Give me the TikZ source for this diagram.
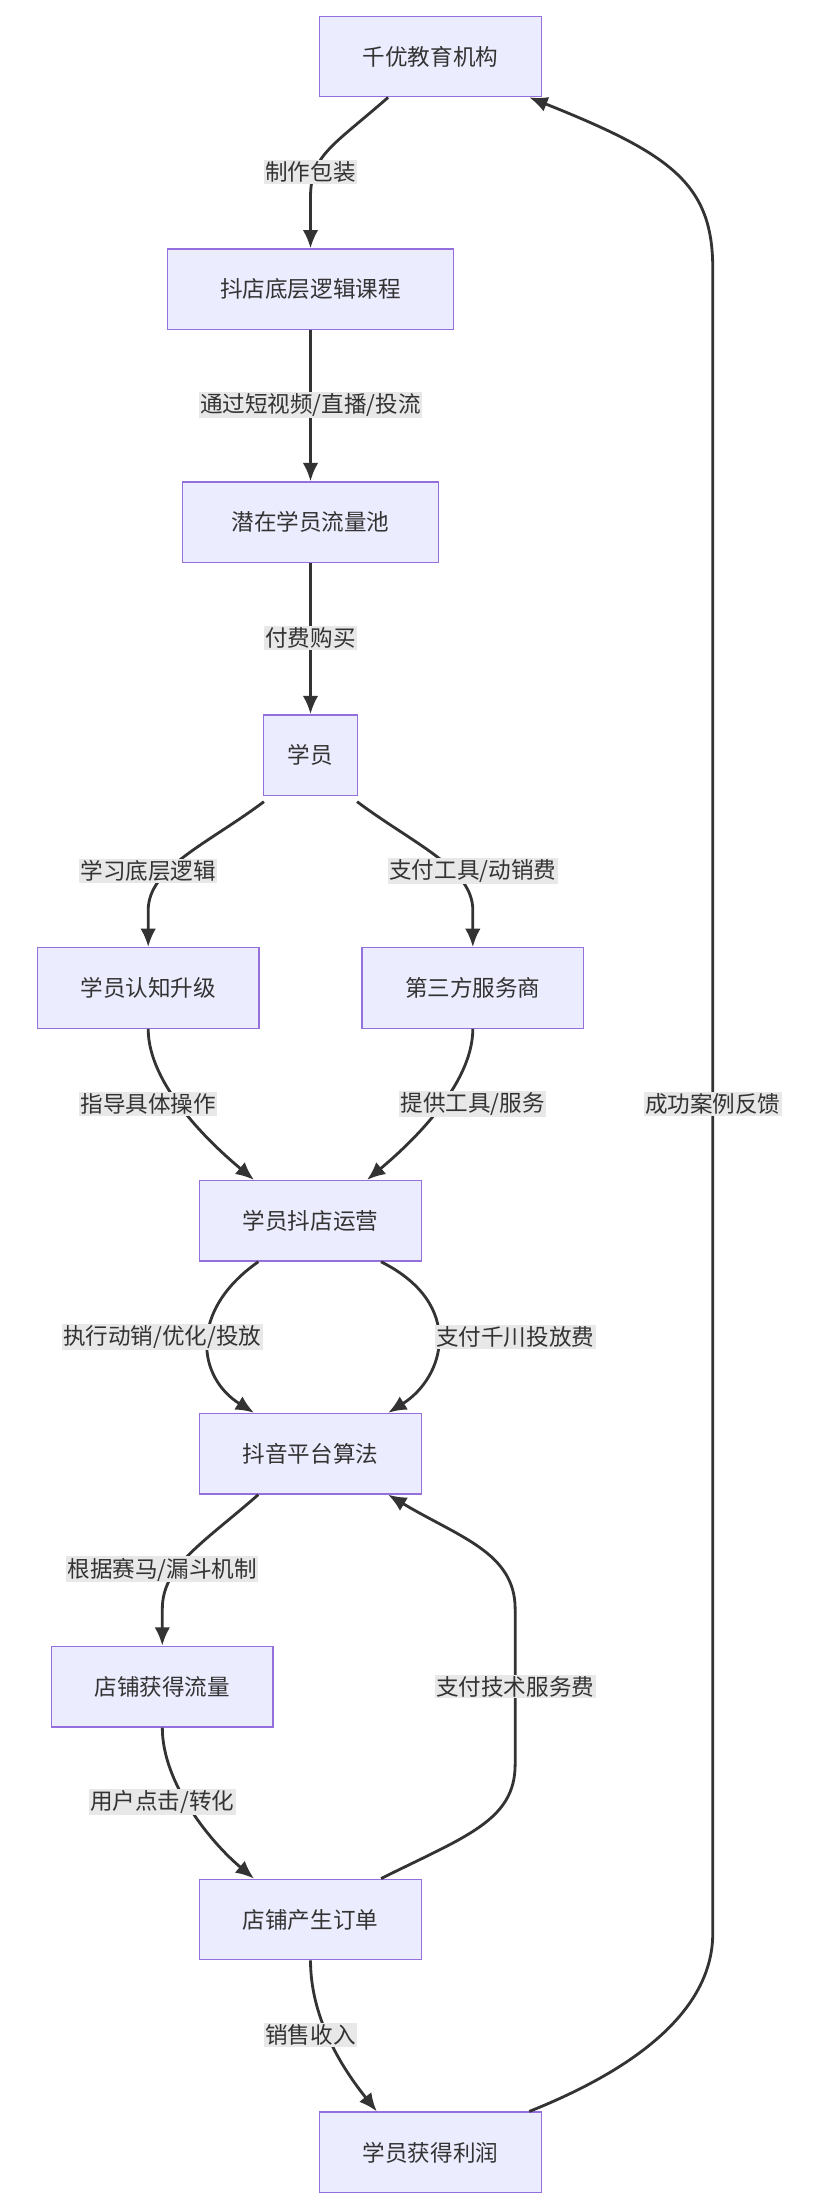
\documentclass[tikz,border=0pt]{standalone}
\usepackage{fontspec}
\setmainfont{Noto Sans CJK SC}
\usetikzlibrary{arrows.meta}
\begin{document}
\begin{tikzpicture}[x=1pt,y=-1pt,
  box/.style={draw=#1,fill=boxfill,line width=1pt,minimum height=57pt,inner xsep=12pt,font=\fontsize{16}{18}\selectfont,text=txt},
  box/.default=boxline,
  lbl/.style={fill=lblbg,inner sep=1pt,font=\fontsize{16}{18}\selectfont,text=txt},
  ed/.style={draw=edge,line width=2pt,-{Latex[length=13pt,width=11pt]}}]
\definecolor{boxfill}{HTML}{ECECFF}
\definecolor{boxline}{HTML}{9370DB}
\definecolor{edge}{HTML}{333333}
\definecolor{txt}{HTML}{333333}
\definecolor{lblbg}{HTML}{E8E8E8}
\useasboundingbox (0,0) rectangle (584,1563);
\node[box,minimum width=157pt] (a) at (305,40) {千优教育机构};
\node[box,minimum width=203pt] (b) at (220,205) {抖店底层逻辑课程};
\node[box,minimum width=181pt] (c) at (220,370) {潜在学员流量池};
\node[box,minimum width=67pt] (d) at (220,535) {学员};
\node[box,minimum width=157pt] (e) at (105,700) {学员认知升级};
\node[box,minimum width=157pt] (f) at (335,700) {第三方服务商};
\node[box,minimum width=157pt] (g) at (220,865) {学员抖店运营};
\node[box,minimum width=157pt] (h) at (220,1030) {抖音平台算法};
\node[box,minimum width=157pt] (i) at (115,1195) {店铺获得流量};
\node[box,minimum width=157pt] (j) at (220,1360) {店铺产生订单};
\node[box,minimum width=157pt] (k) at (305,1525) {学员获得利润};

\draw[ed] ([xshift=-30pt]a.south) .. controls +(-40,35) and +(0,-30) .. (220,140) -- (b.north);
\draw[ed] (b) -- (c);
\draw[ed] (c) -- (d);
\draw[ed] ([xshift=-33pt,yshift=-4pt]d.south) .. controls +(-40,30) and +(0,-30) .. (105,645) -- (e.north);
\draw[ed] ([xshift=33pt,yshift=-4pt]d.south) .. controls +(40,30) and +(0,-30) .. (335,645) -- (f.north);
\draw[ed] (e.south) .. controls +(0,40) and +(-30,-25) .. ([xshift=-40pt]g.north);
\draw[ed] (f.south) .. controls +(0,40) and +(30,-25) .. ([xshift=40pt]g.north);
\draw[ed] ([xshift=-37pt]g.south) .. controls +(-50,35) and +(-40,-25) .. ([xshift=-40pt]h.north);
\draw[ed] ([xshift=50pt]g.south) .. controls +(60,30) and +(40,-25) .. ([xshift=55pt]h.north);
\draw[ed] ([xshift=-37pt]h.south) .. controls +(-40,35) and +(0,-30) .. (115,1140) -- (i.north);
\draw[ed] (i.south) .. controls +(0,40) and +(-30,-25) .. ([xshift=-40pt]j.north);
\draw[ed] ([xshift=50pt]j.north) .. controls +(60,-30) and +(0,40) .. (365,1250) -- (365,1140) .. controls +(0,-40) and +(50,30) .. ([xshift=55pt]h.south);
\draw[ed] (j.south) .. controls +(0,45) and +(-20,-25) .. ([xshift=-38pt]k.north);
\draw[ed] ([xshift=70pt]k.north) .. controls +(100,-40) and +(0,40) .. (505,1370) -- (505,190) .. controls +(0,-60) and +(100,40) .. ([xshift=70pt]a.south);

\node[lbl] (l1) at (220,122) {制作包装};
\node[lbl] (l2) at (220,287) {通过短视频/直播/投流};
\node[lbl] (l3) at (220,452) {付费购买};
\node[lbl] (l4) at (105,617) {学习底层逻辑};
\node[lbl] (l5) at (335,617) {支付工具/动销费};
\node[lbl] (l6) at (105,782) {指导具体操作};
\node[lbl] (l7) at (335,782) {提供工具/服务};
\node[lbl] (l8) at (115,947) {执行动销/优化/投放};
\node[lbl] (l9) at (365,947) {支付千川投放费};
\node[lbl] (l10) at (115,1112) {根据赛马/漏斗机制};
\node[lbl] (l11) at (365,1195) {支付技术服务费};
\node[lbl] (l12) at (115,1277) {用户点击/转化};
\node[lbl] (l13) at (220,1442) {销售收入};
\node[lbl] (l14) at (505,782) {成功案例反馈};
\end{tikzpicture}
\end{document}
